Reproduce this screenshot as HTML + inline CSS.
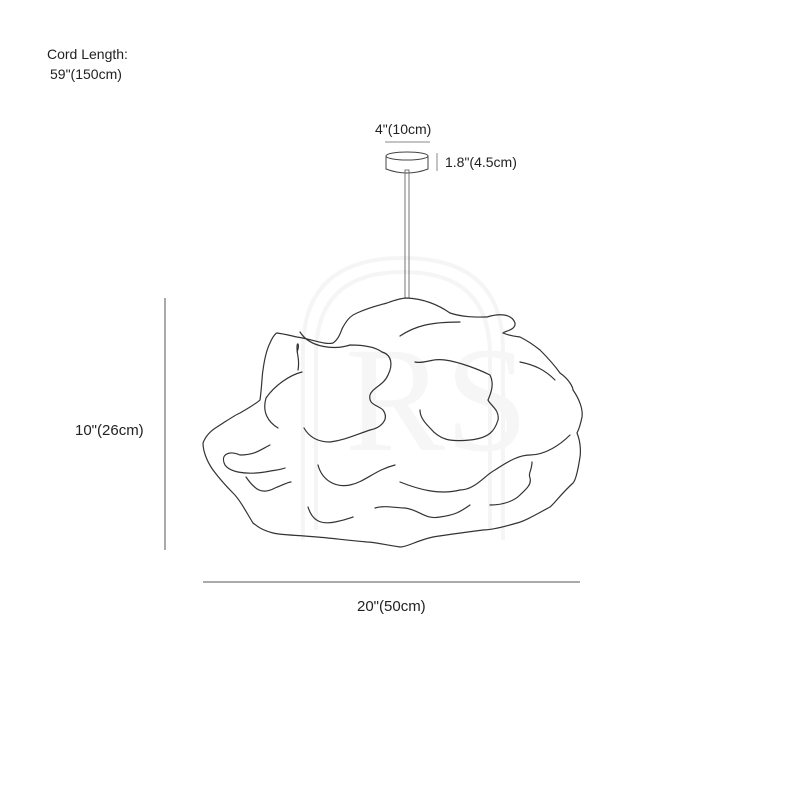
<!DOCTYPE html>
<html><head><style>
body{margin:0;background:#fff;}
svg{display:block}
text{font-family:"Liberation Sans",sans-serif;fill:#222}
</style></head><body>
<svg width="800" height="800" viewBox="0 0 800 800" xmlns="http://www.w3.org/2000/svg">
<g fill="none" stroke="#f5f5f5" stroke-width="4">
<path d="M303 540 V350 Q303 258 403 258 Q503 258 503 350 V540"/>
<path d="M316 530 V355 Q316 272 403 272 Q490 272 490 355 V530"/>
</g>
<text x="345" y="450" style="font-family:'Liberation Serif',serif;font-size:150px;fill:#f6f6f6">RS</text>

<text x="47" y="59" style="font-size:14px">Cord Length:</text>
<text x="50" y="79" style="font-size:14px">59"(150cm)</text>

<text x="375" y="134" style="font-size:14px">4"(10cm)</text>
<line x1="385" y1="142" x2="430" y2="142" stroke="#888" stroke-width="1"/>
<ellipse cx="407" cy="156" rx="21" ry="4" fill="none" stroke="#444" stroke-width="1"/>
<path d="M386 156 V169 Q407 177 428 169 V156" fill="none" stroke="#444" stroke-width="1"/>
<line x1="437" y1="153" x2="437" y2="171" stroke="#888" stroke-width="1"/>
<text x="445" y="167" style="font-size:14px">1.8"(4.5cm)</text>
<rect x="405" y="170" width="4" height="128" fill="none" stroke="#666" stroke-width="0.9"/>

<g fill="none" stroke="#333" stroke-width="1.2" stroke-linecap="round">
<path d="M407 298 C425 299 440 306 450 313 C465 318 480 317 487 317 C500 313 512 314 515 323 C516 330 505 331 503 333 C510 336 520 337 520 337 C530 342 535 346 540 350 C550 360 555 366 560 373 C570 380 573 388 573 390 C580 400 583 410 582 417 C580 427 577 433 577 433 C582 445 580 457 580 457 C578 470 576 480 573 483 C560 495 555 503 550 507 C535 515 525 521 517 523 C500 528 490 530 483 530 C460 533 445 535 433 537 C415 541 408 547 400 547 C385 545 375 542 367 542 C345 540 330 538 317 537 C295 535 280 535 273 533 C262 530 258 527 253 523 C245 510 240 500 233 493 C222 482 216 474 213 470 C206 460 203 450 203 443 C206 435 212 430 217 427 C228 420 235 415 240 413 C252 406 258 402 260 400 C262 385 262 375 263 370 C265 355 268 347 270 343 C273 336 276 333 277 333 C285 334 292 336 297 337 C315 340 325 345 333 343 C340 338 341 330 343 327 C348 318 352 315 357 313 C370 307 380 305 387 303 C395 300 402 298 407 298Z"/>
<path d="M300 332 C310 348 335 350 350 345 C360 345 374 346 382 352"/>
<path d="M297 352 C300 345 297 340 297 348 C297 355 300 360 298 370"/>
<path d="M302 372 C290 375 275 385 266 398 C262 412 268 422 278 428"/>
<path d="M382 352 C392 355 393 365 388 375"/>
<path d="M388 375 C384 385 372 388 370 395 C368 405 378 405 383 410 C390 420 380 428 370 430 C355 435 345 440 330 442 C315 442 308 435 304 428"/>
<path d="M400 336 C415 326 430 322 460 322"/>
<path d="M415 362 C425 364 432 358 445 360 C460 362 480 370 490 375 C495 385 490 395 488 400 C490 405 500 410 498 420 C495 430 490 438 470 440 C450 442 440 440 430 428 C422 420 420 415 420 410"/>
<path d="M520 362 C535 365 545 370 555 380"/>
<path d="M570 435 C560 445 545 455 530 455 C520 455 510 460 495 470 C485 475 475 490 460 490 C440 495 420 490 400 482"/>
<path d="M532 462 C532 470 528 473 530 478 C532 485 525 490 520 495 C515 500 505 505 490 505"/>
<path d="M470 505 C460 512 455 515 440 517 C425 520 420 510 405 508 C395 508 385 505 375 508"/>
<path d="M270 445 C260 450 255 455 240 455 C228 450 220 455 225 465 C230 472 245 475 265 472 C275 470 280 470 285 468"/>
<path d="M246 477 C255 490 262 495 275 488 C283 485 288 482 291 482"/>
<path d="M318 465 C322 480 335 488 350 485 C365 482 375 470 395 465"/>
<path d="M308 507 C312 520 320 525 335 522 C345 520 350 518 353 517"/>
</g>

<line x1="165" y1="298" x2="165" y2="550" stroke="#555" stroke-width="1"/>
<text x="75" y="435" style="font-size:15px">10"(26cm)</text>
<line x1="203" y1="582" x2="580" y2="582" stroke="#555" stroke-width="1"/>
<text x="357" y="611" style="font-size:15px">20"(50cm)</text>
</svg>
</body></html>
